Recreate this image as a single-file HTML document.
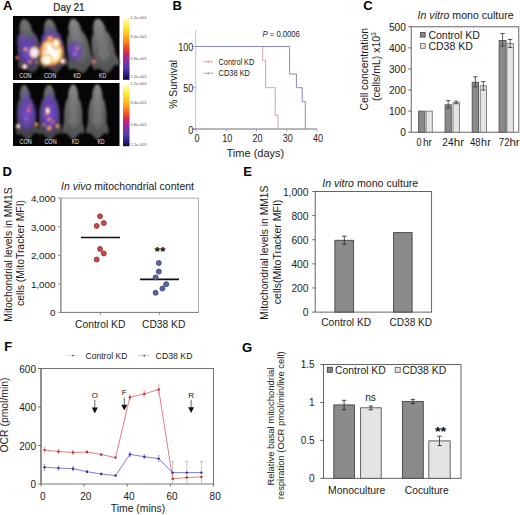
<!DOCTYPE html>
<html><head><meta charset="utf-8"><style>
html,body{margin:0;padding:0;background:#fff;width:520px;height:515px;overflow:hidden;}
svg{display:block;font-family:"Liberation Sans", sans-serif;}
</style></head><body>
<svg width="520" height="515" viewBox="0 0 520 515">
<text x="3" y="10" font-size="13" font-weight="bold" fill="#000" >A</text>
<text x="172.5" y="9.6" font-size="13" font-weight="bold" fill="#000" >B</text>
<text x="363.2" y="9.6" font-size="13" font-weight="bold" fill="#000" >C</text>
<text x="2.6" y="176" font-size="13" font-weight="bold" fill="#000" >D</text>
<text x="243.3" y="176" font-size="13" font-weight="bold" fill="#000" >E</text>
<text x="4.3" y="351" font-size="13" font-weight="bold" fill="#000" >F</text>
<text x="242" y="351.5" font-size="13" font-weight="bold" fill="#000" >G</text>
<text x="53.3" y="10.5" font-size="10.6" fill="#1a1a1a" textLength="31.2" lengthAdjust="spacingAndGlyphs" stroke="#1a1a1a" stroke-width="0.2">Day 21</text>
<defs>
<filter id="bl1" x="-30%" y="-30%" width="160%" height="160%"><feGaussianBlur stdDeviation="0.9"/></filter>
<filter id="bl2" x="-50%" y="-50%" width="200%" height="200%"><feGaussianBlur stdDeviation="1.6"/></filter>
<filter id="bl3" x="-20%" y="-20%" width="140%" height="140%"><feGaussianBlur stdDeviation="0.8"/></filter>
<linearGradient id="cbar" x1="0" y1="0" x2="0" y2="1">
<stop offset="0" stop-color="#fffbe6"/><stop offset="0.06" stop-color="#fff8a8"/><stop offset="0.14" stop-color="#ffee38"/>
<stop offset="0.28" stop-color="#ffc222"/><stop offset="0.4" stop-color="#f88420"/><stop offset="0.52" stop-color="#e63a30"/>
<stop offset="0.6" stop-color="#c42472"/><stop offset="0.68" stop-color="#9030a2"/><stop offset="0.8" stop-color="#5a3aa8"/>
<stop offset="0.9" stop-color="#30288a"/><stop offset="1" stop-color="#0c0c30"/></linearGradient>
<radialGradient id="purp"><stop offset="0" stop-color="#8048e8" stop-opacity="0.92"/><stop offset="0.55" stop-color="#6038d0" stop-opacity="0.68"/><stop offset="1" stop-color="#3820b0" stop-opacity="0"/></radialGradient>
<radialGradient id="hot"><stop offset="0" stop-color="#ffffff"/><stop offset="0.4" stop-color="#fffad0"/><stop offset="0.62" stop-color="#ffd050" stop-opacity="0.95"/><stop offset="0.85" stop-color="#e05060" stop-opacity="0.55"/><stop offset="1" stop-color="#a030a0" stop-opacity="0"/></radialGradient>
<radialGradient id="warm"><stop offset="0" stop-color="#fff0a0"/><stop offset="0.4" stop-color="#ff9a30" stop-opacity="0.85"/><stop offset="1" stop-color="#b03090" stop-opacity="0"/></radialGradient>
<radialGradient id="wspot"><stop offset="0" stop-color="#ffffff"/><stop offset="0.45" stop-color="#fff0e0"/><stop offset="0.75" stop-color="#ff9090" stop-opacity="0.7"/><stop offset="1" stop-color="#c03080" stop-opacity="0"/></radialGradient>
<radialGradient id="pale"><stop offset="0" stop-color="#f4f4ff"/><stop offset="0.5" stop-color="#ece6f4"/><stop offset="0.72" stop-color="#ffc870" stop-opacity="0.9"/><stop offset="1" stop-color="#b040a0" stop-opacity="0"/></radialGradient>
<radialGradient id="white"><stop offset="0" stop-color="#ffffff"/><stop offset="0.55" stop-color="#fffbe8"/><stop offset="0.75" stop-color="#ffd040" stop-opacity="0.95"/><stop offset="0.9" stop-color="#f06040" stop-opacity="0.6"/><stop offset="1" stop-color="#a030a0" stop-opacity="0"/></radialGradient>
<radialGradient id="pink"><stop offset="0" stop-color="#ffe0e0"/><stop offset="0.4" stop-color="#ff6070" stop-opacity="0.9"/><stop offset="1" stop-color="#a02060" stop-opacity="0"/></radialGradient>
<linearGradient id="mg" x1="0" y1="0" x2="0" y2="1"><stop offset="0" stop-color="#969696"/><stop offset="0.3" stop-color="#767676"/><stop offset="1" stop-color="#585858"/></linearGradient>
</defs>
<rect x="13" y="16" width="106.5" height="64" fill="#060606"/>
<rect x="13" y="83" width="106.5" height="63" fill="#060606"/>
<g>
<g transform="rotate(-10 28.5 46.0)" opacity="0.75">
<path d="M29.9,19.0 L31.6,20.4 L33.3,23.3 L34.7,27.6 L34.7,31.4 L37.5,36.3 L39.1,42.8 L39.7,49.2 L39.7,55.7 L41.1,60.0 L42.5,64.4 L40.8,67.6 L36.9,66.5 L32.7,70.3 L29.6,73.0 L27.4,73.0 L24.3,70.3 L20.1,66.5 L16.2,67.6 L14.5,64.4 L15.9,60.0 L17.3,55.7 L17.3,49.2 L17.9,42.8 L19.5,36.3 L22.3,31.4 L22.3,27.6 L23.7,23.3 L25.4,20.4 L27.1,19.0Z" fill="url(#mg)" filter="url(#bl1)"/>
<path d="M29.1,20.1 L29.9,21.1 L30.6,23.4 L31.3,26.8 L31.3,29.8 L32.5,33.6 L33.3,38.6 L33.5,43.7 L33.5,48.7 L34.2,52.1 L34.8,55.5 L34.0,58.0 L32.3,57.1 L30.4,60.1 L29.0,62.2 L28.0,62.2 L26.6,60.1 L24.7,57.1 L23.0,58.0 L22.2,55.5 L22.8,52.1 L23.5,48.7 L23.5,43.7 L23.7,38.6 L24.5,33.6 L25.7,29.8 L25.7,26.8 L26.4,23.4 L27.1,21.1 L27.9,20.1Z" fill="#a8a8a8" opacity="0.35" filter="url(#bl2)"/>
</g>
<g transform="rotate(-8 52.5 46.0)" opacity="0.75">
<path d="M53.9,19.0 L55.6,20.4 L57.3,23.3 L58.7,27.6 L58.7,31.4 L61.5,36.3 L63.1,42.8 L63.7,49.2 L63.7,55.7 L65.1,60.0 L66.5,64.4 L64.8,67.6 L60.9,66.5 L56.7,70.3 L53.6,73.0 L51.4,73.0 L48.3,70.3 L44.1,66.5 L40.2,67.6 L38.5,64.4 L39.9,60.0 L41.3,55.7 L41.3,49.2 L41.9,42.8 L43.5,36.3 L46.3,31.4 L46.3,27.6 L47.7,23.3 L49.4,20.4 L51.1,19.0Z" fill="url(#mg)" filter="url(#bl1)"/>
<path d="M53.1,20.1 L53.9,21.1 L54.6,23.4 L55.3,26.8 L55.3,29.8 L56.5,33.6 L57.3,38.6 L57.5,43.7 L57.5,48.7 L58.2,52.1 L58.8,55.5 L58.0,58.0 L56.3,57.1 L54.4,60.1 L53.0,62.2 L52.0,62.2 L50.6,60.1 L48.7,57.1 L47.0,58.0 L46.2,55.5 L46.8,52.1 L47.5,48.7 L47.5,43.7 L47.7,38.6 L48.5,33.6 L49.7,29.8 L49.7,26.8 L50.4,23.4 L51.1,21.1 L51.9,20.1Z" fill="#a8a8a8" opacity="0.35" filter="url(#bl2)"/>
</g>
<g transform="rotate(-11 78 46.0)" opacity="0.9">
<path d="M79.4,18.5 L81.1,19.9 L82.8,22.9 L84.2,27.3 L84.2,31.1 L87.0,36.1 L88.6,42.7 L89.2,49.3 L89.2,55.9 L90.6,60.3 L92.0,64.7 L90.3,68.0 L86.4,66.9 L82.2,70.8 L79.1,73.5 L76.9,73.5 L73.8,70.8 L69.6,66.9 L65.7,68.0 L64.0,64.7 L65.4,60.3 L66.8,55.9 L66.8,49.3 L67.4,42.7 L69.0,36.1 L71.8,31.1 L71.8,27.3 L73.2,22.9 L74.9,19.9 L76.6,18.5Z" fill="url(#mg)" filter="url(#bl1)"/>
<path d="M78.6,19.6 L79.4,20.7 L80.1,23.0 L80.8,26.5 L80.8,29.5 L82.0,33.3 L82.8,38.5 L83.0,43.6 L83.0,48.8 L83.7,52.2 L84.3,55.6 L83.5,58.2 L81.8,57.4 L79.9,60.4 L78.5,62.5 L77.5,62.5 L76.1,60.4 L74.2,57.4 L72.5,58.2 L71.7,55.6 L72.3,52.2 L73.0,48.8 L73.0,43.6 L73.2,38.5 L74.0,33.3 L75.2,29.5 L75.2,26.5 L75.9,23.0 L76.6,20.7 L77.4,19.6Z" fill="#a8a8a8" opacity="0.35" filter="url(#bl2)"/>
</g>
<g transform="rotate(-11 102.5 46.0)" opacity="0.9">
<path d="M103.9,18.5 L105.6,19.9 L107.3,22.9 L108.7,27.3 L108.7,31.1 L111.5,36.1 L113.1,42.7 L113.7,49.3 L113.7,55.9 L115.1,60.3 L116.5,64.7 L114.8,68.0 L110.9,66.9 L106.7,70.8 L103.6,73.5 L101.4,73.5 L98.3,70.8 L94.1,66.9 L90.2,68.0 L88.5,64.7 L89.9,60.3 L91.3,55.9 L91.3,49.3 L91.9,42.7 L93.5,36.1 L96.3,31.1 L96.3,27.3 L97.7,22.9 L99.4,19.9 L101.1,18.5Z" fill="url(#mg)" filter="url(#bl1)"/>
<path d="M103.1,19.6 L103.9,20.7 L104.6,23.0 L105.3,26.5 L105.3,29.5 L106.5,33.3 L107.3,38.5 L107.5,43.6 L107.5,48.8 L108.2,52.2 L108.8,55.6 L108.0,58.2 L106.3,57.4 L104.4,60.4 L103.0,62.5 L102.0,62.5 L100.6,60.4 L98.7,57.4 L97.0,58.2 L96.2,55.6 L96.8,52.2 L97.5,48.8 L97.5,43.6 L97.7,38.5 L98.5,33.3 L99.7,29.5 L99.7,26.5 L100.4,23.0 L101.1,20.7 L101.9,19.6Z" fill="#a8a8a8" opacity="0.35" filter="url(#bl2)"/>
</g>
</g>
<g filter="url(#bl3)">
<ellipse cx="28" cy="52" rx="11.5" ry="18" fill="url(#purp)" opacity="0.95" transform="rotate(-8 28 52)"/>
<ellipse cx="22" cy="40" rx="8" ry="9" fill="url(#purp)" opacity="0.45" transform="rotate(0 22 40)"/>
<ellipse cx="34.5" cy="40" rx="3" ry="7" fill="url(#purp)" opacity="0.6" transform="rotate(0 34.5 40)"/>
<ellipse cx="34.4" cy="52.5" rx="6" ry="7" fill="url(#pale)" opacity="1" transform="rotate(0 34.4 52.5)"/>
<ellipse cx="25.4" cy="49.2" rx="3" ry="2.6" fill="url(#warm)" opacity="1" transform="rotate(0 25.4 49.2)"/>
<ellipse cx="24.6" cy="66.7" rx="3.2" ry="3.2" fill="url(#wspot)" opacity="1" transform="rotate(0 24.6 66.7)"/>
<ellipse cx="17.3" cy="57.7" rx="2.8" ry="2.8" fill="url(#pink)" opacity="0.9" transform="rotate(0 17.3 57.7)"/>
<ellipse cx="29.9" cy="61.8" rx="2.4" ry="2.4" fill="url(#warm)" opacity="0.85" transform="rotate(0 29.9 61.8)"/>
<ellipse cx="36.5" cy="62" rx="2.2" ry="2.2" fill="url(#warm)" opacity="0.7" transform="rotate(0 36.5 62)"/>
<ellipse cx="51.5" cy="47" rx="13.5" ry="22" fill="url(#purp)" opacity="1" transform="rotate(-6 51.5 47)"/>
<ellipse cx="51.5" cy="52" rx="13" ry="15" fill="url(#white)" opacity="1" transform="rotate(-6 51.5 52)"/>
<ellipse cx="46.5" cy="60" rx="7" ry="6.5" fill="url(#white)" opacity="0.95" transform="rotate(0 46.5 60)"/>
<ellipse cx="56" cy="43.5" rx="5.5" ry="6.5" fill="url(#hot)" opacity="0.95" transform="rotate(0 56 43.5)"/>
<ellipse cx="50" cy="38.5" rx="5" ry="4.5" fill="url(#warm)" opacity="0.95" transform="rotate(0 50 38.5)"/>
<ellipse cx="43.5" cy="49" rx="3.5" ry="4" fill="url(#warm)" opacity="0.8" transform="rotate(0 43.5 49)"/>
<ellipse cx="62.8" cy="61.2" rx="3.2" ry="3.2" fill="url(#wspot)" opacity="1" transform="rotate(0 62.8 61.2)"/>
<ellipse cx="75" cy="51" rx="9.5" ry="12" fill="url(#purp)" opacity="0.9" transform="rotate(0 75 51)"/>
<ellipse cx="77.5" cy="48" rx="3" ry="3" fill="url(#warm)" opacity="0.55" transform="rotate(0 77.5 48)"/>
<ellipse cx="75" cy="54" rx="2.5" ry="2.5" fill="url(#warm)" opacity="0.5" transform="rotate(0 75 54)"/>
<ellipse cx="94" cy="61.5" rx="2.8" ry="2.8" fill="url(#pink)" opacity="1" transform="rotate(0 94 61.5)"/>
</g>
<g transform="rotate(-4 26 112.5)" opacity="0.75">
<path d="M27.2,85.0 L28.5,86.4 L29.9,89.4 L31.1,93.8 L31.1,97.7 L33.4,102.6 L34.7,109.2 L35.2,115.8 L35.2,122.4 L36.4,126.8 L37.5,131.2 L36.1,134.5 L32.9,133.4 L29.4,137.2 L26.9,140.0 L25.1,140.0 L22.6,137.2 L19.1,133.4 L15.9,134.5 L14.5,131.2 L15.7,126.8 L16.8,122.4 L16.8,115.8 L17.3,109.2 L18.6,102.6 L20.9,97.7 L20.9,93.8 L22.1,89.4 L23.5,86.4 L24.8,85.0Z" fill="url(#mg)" filter="url(#bl1)"/>
<path d="M26.5,86.1 L27.1,87.2 L27.8,89.5 L28.3,93.0 L28.3,96.0 L29.3,99.8 L29.9,105.0 L30.1,110.1 L30.1,115.3 L30.7,118.7 L31.2,122.1 L30.6,124.7 L29.1,123.9 L27.6,126.9 L26.4,129.0 L25.6,129.0 L24.4,126.9 L22.9,123.9 L21.4,124.7 L20.8,122.1 L21.3,118.7 L21.9,115.3 L21.9,110.1 L22.1,105.0 L22.7,99.8 L23.7,96.0 L23.7,93.0 L24.2,89.5 L24.9,87.2 L25.5,86.1Z" fill="#a8a8a8" opacity="0.35" filter="url(#bl2)"/>
</g>
<g transform="rotate(-1 49.5 112.5)" opacity="0.75">
<path d="M50.8,85.0 L52.2,86.4 L53.8,89.4 L55.0,93.8 L55.0,97.7 L57.5,102.6 L59.0,109.2 L59.5,115.8 L59.5,122.4 L60.8,126.8 L62.0,131.2 L60.5,134.5 L57.0,133.4 L53.2,137.2 L50.5,140.0 L48.5,140.0 L45.8,137.2 L42.0,133.4 L38.5,134.5 L37.0,131.2 L38.2,126.8 L39.5,122.4 L39.5,115.8 L40.0,109.2 L41.5,102.6 L44.0,97.7 L44.0,93.8 L45.2,89.4 L46.8,86.4 L48.2,85.0Z" fill="url(#mg)" filter="url(#bl1)"/>
<path d="M50.1,86.1 L50.7,87.2 L51.4,89.5 L52.0,93.0 L52.0,96.0 L53.1,99.8 L53.8,105.0 L54.0,110.1 L54.0,115.3 L54.6,118.7 L55.1,122.1 L54.5,124.7 L52.9,123.9 L51.2,126.9 L50.0,129.0 L49.0,129.0 L47.8,126.9 L46.1,123.9 L44.5,124.7 L43.9,122.1 L44.4,118.7 L45.0,115.3 L45.0,110.1 L45.2,105.0 L45.9,99.8 L47.0,96.0 L47.0,93.0 L47.6,89.5 L48.3,87.2 L48.9,86.1Z" fill="#a8a8a8" opacity="0.35" filter="url(#bl2)"/>
</g>
<g transform="rotate(0 73.2 112.0)" opacity="0.9">
<path d="M74.4,84.5 L75.7,85.9 L77.1,88.9 L78.3,93.3 L78.3,97.2 L80.6,102.1 L81.9,108.7 L82.4,115.3 L82.4,121.9 L83.5,126.3 L84.7,130.7 L83.3,134.0 L80.1,132.9 L76.7,136.8 L74.1,139.5 L72.3,139.5 L69.8,136.8 L66.3,132.9 L63.1,134.0 L61.7,130.7 L62.9,126.3 L64.0,121.9 L64.0,115.3 L64.5,108.7 L65.8,102.1 L68.1,97.2 L68.1,93.3 L69.3,88.9 L70.7,85.9 L72.0,84.5Z" fill="url(#mg)" filter="url(#bl1)"/>
<path d="M73.7,85.6 L74.3,86.7 L75.0,89.0 L75.5,92.5 L75.5,95.5 L76.5,99.3 L77.1,104.5 L77.3,109.6 L77.3,114.8 L77.9,118.2 L78.4,121.6 L77.8,124.2 L76.3,123.4 L74.8,126.4 L73.6,128.5 L72.8,128.5 L71.6,126.4 L70.1,123.4 L68.6,124.2 L68.0,121.6 L68.5,118.2 L69.1,114.8 L69.1,109.6 L69.3,104.5 L69.9,99.3 L70.9,95.5 L70.9,92.5 L71.4,89.0 L72.1,86.7 L72.7,85.6Z" fill="#a8a8a8" opacity="0.35" filter="url(#bl2)"/>
</g>
<g transform="rotate(0 97.3 112.0)" opacity="0.9">
<path d="M98.5,84.5 L99.8,85.9 L101.2,88.9 L102.4,93.3 L102.4,97.2 L104.7,102.1 L106.0,108.7 L106.5,115.3 L106.5,121.9 L107.6,126.3 L108.8,130.7 L107.4,134.0 L104.2,132.9 L100.8,136.8 L98.2,139.5 L96.4,139.5 L93.8,136.8 L90.4,132.9 L87.2,134.0 L85.8,130.7 L87.0,126.3 L88.1,121.9 L88.1,115.3 L88.6,108.7 L89.9,102.1 L92.2,97.2 L92.2,93.3 L93.4,88.9 L94.8,85.9 L96.1,84.5Z" fill="url(#mg)" filter="url(#bl1)"/>
<path d="M97.8,85.6 L98.4,86.7 L99.1,89.0 L99.6,92.5 L99.6,95.5 L100.6,99.3 L101.2,104.5 L101.4,109.6 L101.4,114.8 L102.0,118.2 L102.5,121.6 L101.9,124.2 L100.4,123.4 L98.9,126.4 L97.7,128.5 L96.9,128.5 L95.7,126.4 L94.2,123.4 L92.7,124.2 L92.1,121.6 L92.6,118.2 L93.2,114.8 L93.2,109.6 L93.4,104.5 L94.0,99.3 L95.0,95.5 L95.0,92.5 L95.5,89.0 L96.2,86.7 L96.8,85.6Z" fill="#a8a8a8" opacity="0.35" filter="url(#bl2)"/>
</g>
<g filter="url(#bl3)">
<ellipse cx="27" cy="114" rx="11.5" ry="20" fill="url(#purp)" opacity="0.95" transform="rotate(0 27 114)"/>
<ellipse cx="25.5" cy="96" rx="5" ry="7" fill="url(#purp)" opacity="0.5" transform="rotate(0 25.5 96)"/>
<ellipse cx="28.7" cy="110" rx="3" ry="3.5" fill="url(#pink)" opacity="0.75" transform="rotate(0 28.7 110)"/>
<ellipse cx="26" cy="119" rx="2.5" ry="2.5" fill="url(#warm)" opacity="0.45" transform="rotate(0 26 119)"/>
<ellipse cx="18" cy="126.2" rx="2.8" ry="2.8" fill="url(#wspot)" opacity="0.95" transform="rotate(0 18 126.2)"/>
<ellipse cx="49.5" cy="114" rx="12" ry="21" fill="url(#purp)" opacity="1" transform="rotate(0 49.5 114)"/>
<ellipse cx="49.5" cy="98" rx="5" ry="6" fill="url(#purp)" opacity="0.6" transform="rotate(0 49.5 98)"/>
<ellipse cx="47.6" cy="110.8" rx="2.6" ry="4.5" fill="url(#hot)" opacity="0.95" transform="rotate(0 47.6 110.8)"/>
<ellipse cx="49.2" cy="119.2" rx="2.8" ry="3" fill="url(#warm)" opacity="0.8" transform="rotate(0 49.2 119.2)"/>
<ellipse cx="49.2" cy="128.2" rx="4" ry="3.5" fill="url(#warm)" opacity="0.95" transform="rotate(0 49.2 128.2)"/>
<ellipse cx="36.5" cy="124.3" rx="2.8" ry="2.8" fill="url(#warm)" opacity="0.95" transform="rotate(0 36.5 124.3)"/>
<ellipse cx="57.5" cy="126.2" rx="3" ry="3" fill="url(#warm)" opacity="0.95" transform="rotate(0 57.5 126.2)"/>
<ellipse cx="44" cy="125" rx="2.5" ry="2.5" fill="url(#warm)" opacity="0.6" transform="rotate(0 44 125)"/>
<ellipse cx="53" cy="122" rx="2.5" ry="3" fill="url(#pink)" opacity="0.6" transform="rotate(0 53 122)"/>
<ellipse cx="45" cy="115" rx="2" ry="2.5" fill="url(#pink)" opacity="0.5" transform="rotate(0 45 115)"/>
<ellipse cx="30" cy="106" rx="2.5" ry="2.5" fill="url(#pink)" opacity="0.5" transform="rotate(0 30 106)"/>
</g>
<text x="25.4" y="77.7" font-size="6.6" text-anchor="middle" fill="#e8e8e8" textLength="12.2" lengthAdjust="spacingAndGlyphs">CON</text>
<text x="50" y="77.7" font-size="6.6" text-anchor="middle" fill="#e8e8e8" textLength="12.2" lengthAdjust="spacingAndGlyphs">CON</text>
<text x="77.1" y="77.7" font-size="6.6" text-anchor="middle" fill="#e8e8e8" textLength="7.2" lengthAdjust="spacingAndGlyphs">KD</text>
<text x="102.6" y="77.7" font-size="6.6" text-anchor="middle" fill="#e8e8e8" textLength="7.2" lengthAdjust="spacingAndGlyphs">KD</text>
<text x="25.7" y="144.3" font-size="6.6" text-anchor="middle" fill="#e8e8e8" textLength="12.2" lengthAdjust="spacingAndGlyphs">CON</text>
<text x="50.5" y="144.3" font-size="6.6" text-anchor="middle" fill="#e8e8e8" textLength="12.2" lengthAdjust="spacingAndGlyphs">CON</text>
<text x="75.4" y="144.3" font-size="6.6" text-anchor="middle" fill="#e8e8e8" textLength="7.2" lengthAdjust="spacingAndGlyphs">KD</text>
<text x="101" y="144.3" font-size="6.6" text-anchor="middle" fill="#e8e8e8" textLength="7.2" lengthAdjust="spacingAndGlyphs">KD</text>
<rect x="123" y="16.8" width="6.5" height="63" fill="url(#cbar)"/>
<rect x="123" y="83.8" width="6.5" height="62.4" fill="url(#cbar)"/>
<text x="130.6" y="18.5" font-size="4.4" fill="#555" textLength="15.6" lengthAdjust="spacingAndGlyphs">1.2e+004</text>
<text x="130.6" y="38.2" font-size="4.4" fill="#555" textLength="15.6" lengthAdjust="spacingAndGlyphs">8.4e+003</text>
<text x="130.6" y="59.6" font-size="4.4" fill="#555" textLength="15.6" lengthAdjust="spacingAndGlyphs">4.8e+003</text>
<text x="130.6" y="78.3" font-size="4.4" fill="#555" textLength="15.6" lengthAdjust="spacingAndGlyphs">1.2e+003</text>
<text x="130.6" y="84.9" font-size="4.4" fill="#555" textLength="15.6" lengthAdjust="spacingAndGlyphs">1.2e+004</text>
<text x="130.6" y="104.1" font-size="4.4" fill="#555" textLength="15.6" lengthAdjust="spacingAndGlyphs">8.4e+003</text>
<text x="130.6" y="126.3" font-size="4.4" fill="#555" textLength="15.6" lengthAdjust="spacingAndGlyphs">4.8e+003</text>
<text x="130.6" y="145.9" font-size="4.4" fill="#555" textLength="15.6" lengthAdjust="spacingAndGlyphs">1.2e+003</text>
<line x1="195.7" y1="30" x2="195.7" y2="129.5" stroke="#b4b4b4" stroke-width="0.8" />
<line x1="193" y1="129" x2="317" y2="129" stroke="#707070" stroke-width="1" />
<line x1="192.8" y1="46.5" x2="195.7" y2="46.5" stroke="#888" stroke-width="0.8" />
<text x="193.3" y="51.150000000000006" font-size="11" text-anchor="end" fill="#1a1a1a" textLength="15.15" lengthAdjust="spacingAndGlyphs" >100</text>
<line x1="192.8" y1="87.7" x2="195.7" y2="87.7" stroke="#888" stroke-width="0.8" />
<text x="193.3" y="92.35000000000001" font-size="11" text-anchor="end" fill="#1a1a1a" textLength="10.1" lengthAdjust="spacingAndGlyphs" >50</text>
<line x1="192.8" y1="129" x2="195.7" y2="129" stroke="#888" stroke-width="0.8" />
<text x="193.3" y="133.64999999999998" font-size="11" text-anchor="end" fill="#1a1a1a" textLength="5.05" lengthAdjust="spacingAndGlyphs" >0</text>
<line x1="196.0" y1="129" x2="196.0" y2="131.5" stroke="#999" stroke-width="0.8" />
<text x="197.0" y="141.6" font-size="11" text-anchor="middle" fill="#1a1a1a" textLength="5.05" lengthAdjust="spacingAndGlyphs" >0</text>
<line x1="226.25" y1="129" x2="226.25" y2="131.5" stroke="#999" stroke-width="0.8" />
<text x="227.25" y="141.6" font-size="11" text-anchor="middle" fill="#1a1a1a" textLength="10.1" lengthAdjust="spacingAndGlyphs" >10</text>
<line x1="256.5" y1="129" x2="256.5" y2="131.5" stroke="#999" stroke-width="0.8" />
<text x="257.5" y="141.6" font-size="11" text-anchor="middle" fill="#1a1a1a" textLength="10.1" lengthAdjust="spacingAndGlyphs" >20</text>
<line x1="286.75" y1="129" x2="286.75" y2="131.5" stroke="#999" stroke-width="0.8" />
<text x="287.75" y="141.6" font-size="11" text-anchor="middle" fill="#1a1a1a" textLength="10.1" lengthAdjust="spacingAndGlyphs" >30</text>
<line x1="317.0" y1="129" x2="317.0" y2="131.5" stroke="#999" stroke-width="0.8" />
<text x="318.0" y="141.6" font-size="11" text-anchor="middle" fill="#1a1a1a" textLength="10.1" lengthAdjust="spacingAndGlyphs" >40</text>
<text x="255.4" y="156.8" font-size="11" text-anchor="middle" fill="#1a1a1a" >Time (days)</text>
<text transform="translate(177.2,84.4) rotate(-90)" font-size="10.7" text-anchor="middle" fill="#1a1a1a" textLength="48.8" lengthAdjust="spacingAndGlyphs">% Survival</text>
<polyline points="262.7,46.5 262.7,60.3 265.6,60.3 265.6,87.7 275.2,87.7 275.2,115.2 278,115.2 278,129" fill="none" stroke="#d89494" stroke-width="0.9"/>
<polyline points="196,46.5 289.6,46.5 289.6,74 296.4,74 296.4,87.7 302.2,87.7 302.2,101.5 305.3,101.5 305.3,129" fill="none" stroke="#8484bc" stroke-width="0.95"/>
<line x1="203.5" y1="61.8" x2="213" y2="61.8" stroke="#e09090" stroke-width="0.9" />
<line x1="208.3" y1="60.3" x2="208.3" y2="63.3" stroke="#e09090" stroke-width="0.7" />
<line x1="203.5" y1="73.2" x2="213.3" y2="73.2" stroke="#9a9aa8" stroke-width="0.9" />
<line x1="208.4" y1="71.7" x2="208.4" y2="74.7" stroke="#9a9aa8" stroke-width="0.7" />
<text x="218.6" y="65" font-size="8.8" fill="#1a1a1a" textLength="35.6" lengthAdjust="spacingAndGlyphs" >Control KD</text>
<text x="218.6" y="76.3" font-size="8.8" fill="#1a1a1a" textLength="31.4" lengthAdjust="spacingAndGlyphs" >CD38 KD</text>
<text x="262.6" y="37.1" font-size="8.9" fill="#1a1a1a" textLength="37.3" lengthAdjust="spacingAndGlyphs"><tspan font-style="italic">P</tspan> = 0.0006</text>
<rect x="411.2" y="26.8" width="107.59999999999997" height="105.39999999999999" fill="none" stroke="#555" stroke-width="0.9" />
<line x1="408.3" y1="26.8" x2="411.2" y2="26.8" stroke="#555" stroke-width="0.9" />
<text x="405.9" y="30.9" font-size="10.2" text-anchor="end" fill="#1a1a1a" >500</text>
<line x1="408.3" y1="47.879999999999995" x2="411.2" y2="47.879999999999995" stroke="#555" stroke-width="0.9" />
<text x="405.9" y="51.98" font-size="10.2" text-anchor="end" fill="#1a1a1a" >400</text>
<line x1="408.3" y1="68.96" x2="411.2" y2="68.96" stroke="#555" stroke-width="0.9" />
<text x="405.9" y="73.05999999999999" font-size="10.2" text-anchor="end" fill="#1a1a1a" >300</text>
<line x1="408.3" y1="90.03999999999999" x2="411.2" y2="90.03999999999999" stroke="#555" stroke-width="0.9" />
<text x="405.9" y="94.13999999999999" font-size="10.2" text-anchor="end" fill="#1a1a1a" >200</text>
<line x1="408.3" y1="111.11999999999999" x2="411.2" y2="111.11999999999999" stroke="#555" stroke-width="0.9" />
<text x="405.9" y="115.21999999999998" font-size="10.2" text-anchor="end" fill="#1a1a1a" >100</text>
<line x1="408.3" y1="132.2" x2="411.2" y2="132.2" stroke="#555" stroke-width="0.9" />
<text x="405.9" y="136.29999999999998" font-size="10.2" text-anchor="end" fill="#1a1a1a" >0</text>
<text x="417.6" y="19.4" font-size="10.5" fill="#1a1a1a" textLength="96" lengthAdjust="spacingAndGlyphs"><tspan font-style="italic">In vitro</tspan> mono culture</text>
<rect x="418.6" y="111.11999999999999" width="6.199999999999989" height="21.08" fill="#8a8a8a" stroke="#555" stroke-width="0.9" />
<rect x="426.1" y="111.11999999999999" width="6.199999999999989" height="21.08" fill="#e4e4e4" stroke="#777" stroke-width="0.9" />
<rect x="445.1" y="104.79599999999999" width="6.199999999999989" height="27.403999999999996" fill="#8a8a8a" stroke="#555" stroke-width="0.9" />
<line x1="448.20000000000005" y1="100.57999999999998" x2="448.20000000000005" y2="107.958" stroke="#333" stroke-width="0.8" />
<line x1="446.00000000000006" y1="100.57999999999998" x2="450.40000000000003" y2="100.57999999999998" stroke="#333" stroke-width="0.8" />
<line x1="446.00000000000006" y1="107.958" x2="450.40000000000003" y2="107.958" stroke="#333" stroke-width="0.8" />
<rect x="453" y="102.68799999999999" width="6.399999999999977" height="29.512" fill="#e4e4e4" stroke="#777" stroke-width="0.9" />
<line x1="456.2" y1="101.21239999999999" x2="456.2" y2="103.74199999999999" stroke="#333" stroke-width="0.8" />
<line x1="454.0" y1="101.21239999999999" x2="458.4" y2="101.21239999999999" stroke="#333" stroke-width="0.8" />
<line x1="454.0" y1="103.74199999999999" x2="458.4" y2="103.74199999999999" stroke="#333" stroke-width="0.8" />
<rect x="472.2" y="82.2404" width="6.300000000000011" height="49.959599999999995" fill="#8a8a8a" stroke="#555" stroke-width="0.9" />
<line x1="475.35" y1="76.75959999999999" x2="475.35" y2="86.87799999999999" stroke="#333" stroke-width="0.8" />
<line x1="473.15000000000003" y1="76.75959999999999" x2="477.55" y2="76.75959999999999" stroke="#333" stroke-width="0.8" />
<line x1="473.15000000000003" y1="86.87799999999999" x2="477.55" y2="86.87799999999999" stroke="#333" stroke-width="0.8" />
<rect x="480.2" y="85.82399999999998" width="6.300000000000011" height="46.376000000000005" fill="#e4e4e4" stroke="#777" stroke-width="0.9" />
<line x1="483.35" y1="81.60799999999999" x2="483.35" y2="90.03999999999999" stroke="#333" stroke-width="0.8" />
<line x1="481.15000000000003" y1="81.60799999999999" x2="485.55" y2="81.60799999999999" stroke="#333" stroke-width="0.8" />
<line x1="481.15000000000003" y1="90.03999999999999" x2="485.55" y2="90.03999999999999" stroke="#333" stroke-width="0.8" />
<rect x="499.1" y="40.501999999999995" width="7.0" height="91.698" fill="#8a8a8a" stroke="#555" stroke-width="0.9" />
<line x1="502.6" y1="33.54559999999999" x2="502.6" y2="46.19359999999999" stroke="#333" stroke-width="0.8" />
<line x1="500.40000000000003" y1="33.54559999999999" x2="504.8" y2="33.54559999999999" stroke="#333" stroke-width="0.8" />
<line x1="500.40000000000003" y1="46.19359999999999" x2="504.8" y2="46.19359999999999" stroke="#333" stroke-width="0.8" />
<rect x="506.9" y="43.66399999999999" width="6.5" height="88.536" fill="#e4e4e4" stroke="#777" stroke-width="0.9" />
<line x1="510.15" y1="39.44799999999999" x2="510.15" y2="47.4584" stroke="#333" stroke-width="0.8" />
<line x1="507.95" y1="39.44799999999999" x2="512.35" y2="39.44799999999999" stroke="#333" stroke-width="0.8" />
<line x1="507.95" y1="47.4584" x2="512.35" y2="47.4584" stroke="#333" stroke-width="0.8" />
<rect x="420.5" y="32.4" width="4.7" height="4.7" fill="#8a8a8a" stroke="#444" stroke-width="0.8" />
<rect x="420.5" y="43.6" width="4.7" height="4.7" fill="#e4e4e4" stroke="#666" stroke-width="0.8" />
<text x="428.4" y="38.9" font-size="10.5" fill="#1a1a1a" >Control KD</text>
<text x="428.4" y="50.2" font-size="10.5" fill="#1a1a1a" >CD38 KD</text>
<text x="416.5" y="146.2" font-size="10.8" fill="#1a1a1a" textLength="5.0" lengthAdjust="spacingAndGlyphs" >0</text>
<text x="422.90000000000003" y="146.2" font-size="10.8" fill="#1a1a1a" textLength="8.9" lengthAdjust="spacingAndGlyphs" >hr</text>
<text x="442.3" y="146.2" font-size="10.8" fill="#1a1a1a" textLength="11.2" lengthAdjust="spacingAndGlyphs" >24</text>
<text x="453.8" y="146.2" font-size="10.8" fill="#1a1a1a" textLength="10.3" lengthAdjust="spacingAndGlyphs" >hr</text>
<text x="470.0" y="146.2" font-size="10.8" fill="#1a1a1a" textLength="10.5" lengthAdjust="spacingAndGlyphs" >48</text>
<text x="481.1" y="146.2" font-size="10.8" fill="#1a1a1a" textLength="9.7" lengthAdjust="spacingAndGlyphs" >hr</text>
<text x="498.8" y="146.2" font-size="10.8" fill="#1a1a1a" textLength="10.7" lengthAdjust="spacingAndGlyphs" >72</text>
<text x="509.40000000000003" y="146.2" font-size="10.8" fill="#1a1a1a" textLength="10.2" lengthAdjust="spacingAndGlyphs" >hr</text>
<text transform="translate(367.5,69.3) rotate(-90)" font-size="10.3" text-anchor="middle" fill="#1a1a1a" textLength="82.5" lengthAdjust="spacingAndGlyphs">Cell concentration</text>
<text transform="translate(380,66.6) rotate(-90)" font-size="10" text-anchor="middle" fill="#1a1a1a" textLength="69" lengthAdjust="spacingAndGlyphs">(cells/mL) x10<tspan font-size="6.5" dy="-3.6">3</tspan></text>
<rect x="60.9" y="198.1" width="137.5" height="114.29999999999998" fill="none" stroke="#999" stroke-width="0.8" />
<line x1="60.9" y1="198.1" x2="60.9" y2="312.4" stroke="#777" stroke-width="0.9" />
<line x1="60.9" y1="312.4" x2="198.4" y2="312.4" stroke="#777" stroke-width="0.9" />
<line x1="58" y1="198.1" x2="60.9" y2="198.1" stroke="#777" stroke-width="0.8" />
<text x="55.6" y="202.0" font-size="9.9" text-anchor="end" fill="#1a1a1a" >4,000</text>
<line x1="58" y1="226.67499999999998" x2="60.9" y2="226.67499999999998" stroke="#777" stroke-width="0.8" />
<text x="55.6" y="230.575" font-size="9.9" text-anchor="end" fill="#1a1a1a" >3,000</text>
<line x1="58" y1="255.25" x2="60.9" y2="255.25" stroke="#777" stroke-width="0.8" />
<text x="55.6" y="259.15" font-size="9.9" text-anchor="end" fill="#1a1a1a" >2,000</text>
<line x1="58" y1="283.825" x2="60.9" y2="283.825" stroke="#777" stroke-width="0.8" />
<text x="55.6" y="287.72499999999997" font-size="9.9" text-anchor="end" fill="#1a1a1a" >1,000</text>
<line x1="58" y1="312.4" x2="60.9" y2="312.4" stroke="#777" stroke-width="0.8" />
<text x="55.6" y="316.29999999999995" font-size="9.9" text-anchor="end" fill="#1a1a1a" >0</text>
<line x1="100.4" y1="312.4" x2="100.4" y2="314.9" stroke="#777" stroke-width="0.8" />
<text x="100.25" y="328.4" font-size="10.4" text-anchor="middle" fill="#1a1a1a" textLength="50.3" lengthAdjust="spacingAndGlyphs" >Control KD</text>
<line x1="159.4" y1="312.4" x2="159.4" y2="314.9" stroke="#777" stroke-width="0.8" />
<text x="163.7" y="328.4" font-size="10.4" text-anchor="middle" fill="#1a1a1a" textLength="43.4" lengthAdjust="spacingAndGlyphs" >CD38 KD</text>
<text x="61" y="189.8" font-size="10.4" fill="#1a1a1a" textLength="133" lengthAdjust="spacingAndGlyphs"><tspan font-style="italic">In vivo</tspan> mitochondrial content</text>
<text transform="translate(12.3,254.5) rotate(-90)" font-size="10.2" text-anchor="middle" fill="#1a1a1a" textLength="134.3" lengthAdjust="spacingAndGlyphs">Mitochondrial levels in MM1S</text>
<text transform="translate(24.2,252.9) rotate(-90)" font-size="10.4" text-anchor="middle" fill="#1a1a1a" textLength="106" lengthAdjust="spacingAndGlyphs">cells (MitoTracker MFI)</text>
<line x1="81" y1="237.5" x2="120" y2="237.5" stroke="#111" stroke-width="1.7" />
<line x1="140.1" y1="279.4" x2="179" y2="279.4" stroke="#111" stroke-width="1.7" />
<circle cx="100" cy="216.3" r="2.5" fill="#d04848" stroke="#802020" stroke-width="0.7"/>
<circle cx="103.8" cy="223.1" r="2.5" fill="#d04848" stroke="#802020" stroke-width="0.7"/>
<circle cx="96.7" cy="225.9" r="2.5" fill="#d04848" stroke="#802020" stroke-width="0.7"/>
<circle cx="100" cy="248.9" r="2.5" fill="#d04848" stroke="#802020" stroke-width="0.7"/>
<circle cx="103.8" cy="253.4" r="2.5" fill="#d04848" stroke="#802020" stroke-width="0.7"/>
<circle cx="96.7" cy="259.5" r="2.5" fill="#d04848" stroke="#802020" stroke-width="0.7"/>
<circle cx="158.8" cy="263" r="2.5" fill="#5866a8" stroke="#283060" stroke-width="0.7"/>
<circle cx="158.8" cy="271.6" r="2.5" fill="#5866a8" stroke="#283060" stroke-width="0.7"/>
<circle cx="155.6" cy="277.4" r="2.5" fill="#5866a8" stroke="#283060" stroke-width="0.7"/>
<circle cx="166.2" cy="284.2" r="2.5" fill="#5866a8" stroke="#283060" stroke-width="0.7"/>
<circle cx="162.4" cy="288.5" r="2.5" fill="#5866a8" stroke="#283060" stroke-width="0.7"/>
<circle cx="155.6" cy="292.8" r="2.5" fill="#5866a8" stroke="#283060" stroke-width="0.7"/>
<text x="160.1" y="256.3" font-size="12.5" text-anchor="middle" font-weight="bold" fill="#111" textLength="11" lengthAdjust="spacingAndGlyphs" >**</text>
<rect x="315.2" y="191.5" width="116.40000000000003" height="120.60000000000002" fill="none" stroke="#555" stroke-width="0.9" />
<line x1="312.3" y1="191.5" x2="315.2" y2="191.5" stroke="#555" stroke-width="0.9" />
<text x="308.4" y="195.5" font-size="10.2" text-anchor="end" fill="#1a1a1a" >1,000</text>
<line x1="312.3" y1="215.62" x2="315.2" y2="215.62" stroke="#555" stroke-width="0.9" />
<text x="308.4" y="219.62" font-size="10.2" text-anchor="end" fill="#1a1a1a" >800</text>
<line x1="312.3" y1="239.74" x2="315.2" y2="239.74" stroke="#555" stroke-width="0.9" />
<text x="308.4" y="243.74" font-size="10.2" text-anchor="end" fill="#1a1a1a" >600</text>
<line x1="312.3" y1="263.86" x2="315.2" y2="263.86" stroke="#555" stroke-width="0.9" />
<text x="308.4" y="267.86" font-size="10.2" text-anchor="end" fill="#1a1a1a" >400</text>
<line x1="312.3" y1="287.98" x2="315.2" y2="287.98" stroke="#555" stroke-width="0.9" />
<text x="308.4" y="291.98" font-size="10.2" text-anchor="end" fill="#1a1a1a" >200</text>
<line x1="312.3" y1="312.1" x2="315.2" y2="312.1" stroke="#555" stroke-width="0.9" />
<text x="308.4" y="316.1" font-size="10.2" text-anchor="end" fill="#1a1a1a" >0</text>
<text x="322.2" y="186.6" font-size="10.4" fill="#1a1a1a" textLength="96" lengthAdjust="spacingAndGlyphs"><tspan font-style="italic">In vitro</tspan> mono culture</text>
<rect x="334.9" y="240.3" width="18.7" height="71.80000000000001" fill="#8a8a8a" stroke="#444" stroke-width="0.9" />
<rect x="393.6" y="232.6" width="18.5" height="79.50000000000003" fill="#8a8a8a" stroke="#444" stroke-width="0.9" />
<line x1="344.3" y1="236.2" x2="344.3" y2="244.2" stroke="#222" stroke-width="0.8" />
<line x1="342" y1="236.2" x2="346.6" y2="236.2" stroke="#222" stroke-width="0.8" />
<line x1="342" y1="244.2" x2="346.6" y2="244.2" stroke="#222" stroke-width="0.8" />
<text x="346.2" y="326.4" font-size="10.4" text-anchor="middle" fill="#1a1a1a" textLength="50" lengthAdjust="spacingAndGlyphs" >Control KD</text>
<text x="410.8" y="326.4" font-size="10.4" text-anchor="middle" fill="#1a1a1a" textLength="42.5" lengthAdjust="spacingAndGlyphs" >CD38 KD</text>
<text transform="translate(268.3,252.6) rotate(-90)" font-size="10.1" text-anchor="middle" fill="#1a1a1a" textLength="134.2" lengthAdjust="spacingAndGlyphs">Mitochondrial levels in MM1S</text>
<text transform="translate(280.8,251.9) rotate(-90)" font-size="10.1" text-anchor="middle" fill="#1a1a1a" textLength="104.6" lengthAdjust="spacingAndGlyphs">cells(MitoTracker MFI)</text>
<rect x="41" y="368.5" width="172.5" height="115.5" fill="none" stroke="#666" stroke-width="0.9" />
<line x1="41" y1="368.5" x2="41" y2="484" stroke="#666" stroke-width="1" />
<line x1="37.8" y1="368.5" x2="41" y2="368.5" stroke="#666" stroke-width="0.9" />
<text x="36" y="372.9" font-size="10" text-anchor="end" fill="#1a1a1a" >600</text>
<line x1="37.8" y1="407.0" x2="41" y2="407.0" stroke="#666" stroke-width="0.9" />
<text x="36" y="411.4" font-size="10" text-anchor="end" fill="#1a1a1a" >400</text>
<line x1="37.8" y1="445.5" x2="41" y2="445.5" stroke="#666" stroke-width="0.9" />
<text x="36" y="449.9" font-size="10" text-anchor="end" fill="#1a1a1a" >200</text>
<line x1="37.8" y1="484.0" x2="41" y2="484.0" stroke="#666" stroke-width="0.9" />
<text x="36" y="488.4" font-size="10" text-anchor="end" fill="#1a1a1a" >0</text>
<line x1="41.0" y1="484" x2="41.0" y2="486.6" stroke="#666" stroke-width="0.9" />
<text x="42.7" y="499.6" font-size="10" text-anchor="middle" fill="#1a1a1a" >0</text>
<line x1="84.12" y1="484" x2="84.12" y2="486.6" stroke="#666" stroke-width="0.9" />
<text x="85.82000000000001" y="499.6" font-size="10" text-anchor="middle" fill="#1a1a1a" >20</text>
<line x1="127.24" y1="484" x2="127.24" y2="486.6" stroke="#666" stroke-width="0.9" />
<text x="128.94" y="499.6" font-size="10" text-anchor="middle" fill="#1a1a1a" >40</text>
<line x1="170.35999999999999" y1="484" x2="170.35999999999999" y2="486.6" stroke="#666" stroke-width="0.9" />
<text x="172.05999999999997" y="499.6" font-size="10" text-anchor="middle" fill="#1a1a1a" >60</text>
<line x1="213.48" y1="484" x2="213.48" y2="486.6" stroke="#666" stroke-width="0.9" />
<text x="215.17999999999998" y="499.6" font-size="10" text-anchor="middle" fill="#1a1a1a" >80</text>
<text x="138" y="512.3" font-size="10.4" text-anchor="middle" fill="#1a1a1a" textLength="54.6" lengthAdjust="spacingAndGlyphs" >Time (mins)</text>
<text transform="translate(8,415) rotate(-90)" font-size="10.4" text-anchor="middle" fill="#1a1a1a" textLength="75" lengthAdjust="spacingAndGlyphs">OCR (pmol/min)</text>
<line x1="66.7" y1="355.6" x2="78.8" y2="355.6" stroke="#ecc8c8" stroke-width="0.9" />
<circle cx="72.9" cy="355.6" r="0.9" fill="#804040"/>
<line x1="138" y1="355.6" x2="150.2" y2="355.6" stroke="#c8c8e4" stroke-width="0.9" />
<circle cx="144.3" cy="355.6" r="0.9" fill="#404080"/>
<text x="85.6" y="359.1" font-size="9" fill="#1a1a1a" textLength="41.7" lengthAdjust="spacingAndGlyphs" >Control KD</text>
<text x="155.6" y="359.1" font-size="9" fill="#1a1a1a" textLength="36.9" lengthAdjust="spacingAndGlyphs" >CD38 KD</text>
<line x1="172.7" y1="461.5" x2="172.7" y2="484" stroke="#a8a8b4" stroke-width="0.7" />
<line x1="171.2" y1="461.5" x2="174.2" y2="461.5" stroke="#a8a8b4" stroke-width="0.7" />
<line x1="186.8" y1="461.5" x2="186.8" y2="484" stroke="#a8a8b4" stroke-width="0.7" />
<line x1="185.3" y1="461.5" x2="188.3" y2="461.5" stroke="#a8a8b4" stroke-width="0.7" />
<line x1="201.4" y1="461.5" x2="201.4" y2="484" stroke="#a8a8b4" stroke-width="0.7" />
<line x1="199.9" y1="461.5" x2="202.9" y2="461.5" stroke="#a8a8b4" stroke-width="0.7" />
<line x1="44.5" y1="447.6" x2="44.5" y2="452.6" stroke="#e08080" stroke-width="0.6" />
<line x1="43.5" y1="447.6" x2="45.5" y2="447.6" stroke="#e08080" stroke-width="0.5" />
<line x1="43.5" y1="452.6" x2="45.5" y2="452.6" stroke="#e08080" stroke-width="0.5" />
<line x1="58.5" y1="449.3" x2="58.5" y2="453.7" stroke="#e08080" stroke-width="0.6" />
<line x1="57.5" y1="449.3" x2="59.5" y2="449.3" stroke="#e08080" stroke-width="0.5" />
<line x1="57.5" y1="453.7" x2="59.5" y2="453.7" stroke="#e08080" stroke-width="0.5" />
<line x1="73" y1="450.4" x2="73" y2="454.4" stroke="#e08080" stroke-width="0.6" />
<line x1="72" y1="450.4" x2="74" y2="450.4" stroke="#e08080" stroke-width="0.5" />
<line x1="72" y1="454.4" x2="74" y2="454.4" stroke="#e08080" stroke-width="0.5" />
<line x1="87" y1="450.8" x2="87" y2="453.2" stroke="#e08080" stroke-width="0.6" />
<line x1="86" y1="450.8" x2="88" y2="450.8" stroke="#e08080" stroke-width="0.5" />
<line x1="86" y1="453.2" x2="88" y2="453.2" stroke="#e08080" stroke-width="0.5" />
<line x1="101.25" y1="453.5" x2="101.25" y2="455.5" stroke="#e08080" stroke-width="0.6" />
<line x1="100.25" y1="453.5" x2="102.25" y2="453.5" stroke="#e08080" stroke-width="0.5" />
<line x1="100.25" y1="455.5" x2="102.25" y2="455.5" stroke="#e08080" stroke-width="0.5" />
<line x1="115.5" y1="456.6" x2="115.5" y2="458.6" stroke="#e08080" stroke-width="0.6" />
<line x1="114.5" y1="456.6" x2="116.5" y2="456.6" stroke="#e08080" stroke-width="0.5" />
<line x1="114.5" y1="458.6" x2="116.5" y2="458.6" stroke="#e08080" stroke-width="0.5" />
<line x1="129.9" y1="394.7" x2="129.9" y2="399.7" stroke="#e08080" stroke-width="0.6" />
<line x1="128.9" y1="394.7" x2="130.9" y2="394.7" stroke="#e08080" stroke-width="0.5" />
<line x1="128.9" y1="399.7" x2="130.9" y2="399.7" stroke="#e08080" stroke-width="0.5" />
<line x1="144.3" y1="390.9" x2="144.3" y2="396.9" stroke="#e08080" stroke-width="0.6" />
<line x1="143.3" y1="390.9" x2="145.3" y2="390.9" stroke="#e08080" stroke-width="0.5" />
<line x1="143.3" y1="396.9" x2="145.3" y2="396.9" stroke="#e08080" stroke-width="0.5" />
<line x1="158.7" y1="385.0" x2="158.7" y2="394.0" stroke="#e08080" stroke-width="0.6" />
<line x1="157.7" y1="385.0" x2="159.7" y2="385.0" stroke="#e08080" stroke-width="0.5" />
<line x1="157.7" y1="394.0" x2="159.7" y2="394.0" stroke="#e08080" stroke-width="0.5" />
<line x1="44.5" y1="464.2" x2="44.5" y2="470.2" stroke="#7878c0" stroke-width="0.6" />
<line x1="43.5" y1="464.2" x2="45.5" y2="464.2" stroke="#7878c0" stroke-width="0.5" />
<line x1="43.5" y1="470.2" x2="45.5" y2="470.2" stroke="#7878c0" stroke-width="0.5" />
<line x1="58.5" y1="465.90000000000003" x2="58.5" y2="470.3" stroke="#7878c0" stroke-width="0.6" />
<line x1="57.5" y1="465.90000000000003" x2="59.5" y2="465.90000000000003" stroke="#7878c0" stroke-width="0.5" />
<line x1="57.5" y1="470.3" x2="59.5" y2="470.3" stroke="#7878c0" stroke-width="0.5" />
<line x1="73" y1="466.7" x2="73" y2="470.7" stroke="#7878c0" stroke-width="0.6" />
<line x1="72" y1="466.7" x2="74" y2="466.7" stroke="#7878c0" stroke-width="0.5" />
<line x1="72" y1="470.7" x2="74" y2="470.7" stroke="#7878c0" stroke-width="0.5" />
<line x1="87" y1="470.7" x2="87" y2="472.7" stroke="#7878c0" stroke-width="0.6" />
<line x1="86" y1="470.7" x2="88" y2="470.7" stroke="#7878c0" stroke-width="0.5" />
<line x1="86" y1="472.7" x2="88" y2="472.7" stroke="#7878c0" stroke-width="0.5" />
<line x1="101.25" y1="473" x2="101.25" y2="475" stroke="#7878c0" stroke-width="0.6" />
<line x1="100.25" y1="473" x2="102.25" y2="473" stroke="#7878c0" stroke-width="0.5" />
<line x1="100.25" y1="475" x2="102.25" y2="475" stroke="#7878c0" stroke-width="0.5" />
<line x1="115.5" y1="474.6" x2="115.5" y2="476.6" stroke="#7878c0" stroke-width="0.6" />
<line x1="114.5" y1="474.6" x2="116.5" y2="474.6" stroke="#7878c0" stroke-width="0.5" />
<line x1="114.5" y1="476.6" x2="116.5" y2="476.6" stroke="#7878c0" stroke-width="0.5" />
<line x1="129.9" y1="452.4" x2="129.9" y2="456.4" stroke="#7878c0" stroke-width="0.6" />
<line x1="128.9" y1="452.4" x2="130.9" y2="452.4" stroke="#7878c0" stroke-width="0.5" />
<line x1="128.9" y1="456.4" x2="130.9" y2="456.4" stroke="#7878c0" stroke-width="0.5" />
<line x1="144.3" y1="454.7" x2="144.3" y2="458.7" stroke="#7878c0" stroke-width="0.6" />
<line x1="143.3" y1="454.7" x2="145.3" y2="454.7" stroke="#7878c0" stroke-width="0.5" />
<line x1="143.3" y1="458.7" x2="145.3" y2="458.7" stroke="#7878c0" stroke-width="0.5" />
<line x1="158.7" y1="455.6" x2="158.7" y2="461.6" stroke="#7878c0" stroke-width="0.6" />
<line x1="157.7" y1="455.6" x2="159.7" y2="455.6" stroke="#7878c0" stroke-width="0.5" />
<line x1="157.7" y1="461.6" x2="159.7" y2="461.6" stroke="#7878c0" stroke-width="0.5" />
<polyline points="44.5,450.1 58.5,451.5 73,452.4 87,452 101.25,454.5 115.5,457.6 129.9,397.2 144.3,393.9 158.7,389.5 172.7,478.9 186.8,477.5 201.4,476.9" fill="none" stroke="#e07070" stroke-width="0.9"/>
<polyline points="44.5,467.2 58.5,468.1 73,468.7 87,471.7 101.25,474 115.5,475.6 129.9,454.4 144.3,456.7 158.7,458.6 172.7,472.6 186.8,472.6 201.4,472.6" fill="none" stroke="#7070c4" stroke-width="0.9"/>
<circle cx="44.5" cy="450.1" r="1.2" fill="#b83030"/>
<circle cx="58.5" cy="451.5" r="1.2" fill="#b83030"/>
<circle cx="73" cy="452.4" r="1.2" fill="#b83030"/>
<circle cx="87" cy="452" r="1.2" fill="#b83030"/>
<circle cx="101.25" cy="454.5" r="1.2" fill="#b83030"/>
<circle cx="115.5" cy="457.6" r="1.2" fill="#b83030"/>
<circle cx="129.9" cy="397.2" r="1.2" fill="#b83030"/>
<circle cx="144.3" cy="393.9" r="1.2" fill="#b83030"/>
<circle cx="158.7" cy="389.5" r="1.2" fill="#b83030"/>
<circle cx="172.7" cy="478.9" r="1.2" fill="#b83030"/>
<circle cx="186.8" cy="477.5" r="1.2" fill="#b83030"/>
<circle cx="201.4" cy="476.9" r="1.2" fill="#b83030"/>
<circle cx="44.5" cy="467.2" r="1.2" fill="#30308a"/>
<circle cx="58.5" cy="468.1" r="1.2" fill="#30308a"/>
<circle cx="73" cy="468.7" r="1.2" fill="#30308a"/>
<circle cx="87" cy="471.7" r="1.2" fill="#30308a"/>
<circle cx="101.25" cy="474" r="1.2" fill="#30308a"/>
<circle cx="115.5" cy="475.6" r="1.2" fill="#30308a"/>
<circle cx="129.9" cy="454.4" r="1.2" fill="#30308a"/>
<circle cx="144.3" cy="456.7" r="1.2" fill="#30308a"/>
<circle cx="158.7" cy="458.6" r="1.2" fill="#30308a"/>
<circle cx="172.7" cy="472.6" r="1.2" fill="#30308a"/>
<circle cx="186.8" cy="472.6" r="1.2" fill="#30308a"/>
<circle cx="201.4" cy="472.6" r="1.2" fill="#30308a"/>
<text x="94.8" y="397.79999999999995" font-size="8" text-anchor="middle" fill="#111" >O</text>
<line x1="94.8" y1="399.9" x2="94.8" y2="408.4" stroke="#555" stroke-width="0.9" />
<polygon points="91.8,407.59999999999997 97.8,407.59999999999997 94.8,413.4" fill="#111"/>
<text x="124.3" y="394.9" font-size="8" text-anchor="middle" fill="#111" >F</text>
<line x1="124.3" y1="397.5" x2="124.3" y2="405.5" stroke="#555" stroke-width="0.9" />
<polygon points="121.3,404.7 127.3,404.7 124.3,410.5" fill="#111"/>
<text x="191.1" y="397.79999999999995" font-size="8" text-anchor="middle" fill="#111" >R</text>
<line x1="191.1" y1="399.9" x2="191.1" y2="408" stroke="#555" stroke-width="0.9" />
<polygon points="188.1,407.2 194.1,407.2 191.1,413" fill="#111"/>
<rect x="323.5" y="364.5" width="137.5" height="113.80000000000001" fill="none" stroke="#555" stroke-width="0.9" />
<line x1="320.2" y1="364.5" x2="323.5" y2="364.5" stroke="#555" stroke-width="0.9" />
<text x="314.6" y="368.4" font-size="10" text-anchor="end" fill="#1a1a1a" >1.5</text>
<line x1="320.2" y1="402.43" x2="323.5" y2="402.43" stroke="#555" stroke-width="0.9" />
<text x="314.6" y="406.33" font-size="10" text-anchor="end" fill="#1a1a1a" >1</text>
<line x1="320.2" y1="440.36" x2="323.5" y2="440.36" stroke="#555" stroke-width="0.9" />
<text x="314.6" y="444.26" font-size="10" text-anchor="end" fill="#1a1a1a" >0.5</text>
<line x1="320.2" y1="478.28999999999996" x2="323.5" y2="478.28999999999996" stroke="#555" stroke-width="0.9" />
<text x="314.6" y="482.18999999999994" font-size="10" text-anchor="end" fill="#1a1a1a" >0</text>
<rect x="333.8" y="404.9" width="20.599999999999966" height="73.40000000000003" fill="#8a8a8a" stroke="#444" stroke-width="0.9" />
<line x1="344.1" y1="400.3" x2="344.1" y2="409.8" stroke="#222" stroke-width="0.8" />
<line x1="341.90000000000003" y1="400.3" x2="346.3" y2="400.3" stroke="#222" stroke-width="0.8" />
<line x1="341.90000000000003" y1="409.8" x2="346.3" y2="409.8" stroke="#222" stroke-width="0.8" />
<rect x="360.6" y="407.8" width="20.599999999999966" height="70.5" fill="#e4e4e4" stroke="#555" stroke-width="0.9" />
<line x1="370.9" y1="406" x2="370.9" y2="409.8" stroke="#222" stroke-width="0.8" />
<line x1="368.7" y1="406" x2="373.09999999999997" y2="406" stroke="#222" stroke-width="0.8" />
<line x1="368.7" y1="409.8" x2="373.09999999999997" y2="409.8" stroke="#222" stroke-width="0.8" />
<rect x="402.4" y="401.4" width="20.900000000000034" height="76.90000000000003" fill="#8a8a8a" stroke="#444" stroke-width="0.9" />
<line x1="412.85" y1="399.4" x2="412.85" y2="403.5" stroke="#222" stroke-width="0.8" />
<line x1="410.65000000000003" y1="399.4" x2="415.05" y2="399.4" stroke="#222" stroke-width="0.8" />
<line x1="410.65000000000003" y1="403.5" x2="415.05" y2="403.5" stroke="#222" stroke-width="0.8" />
<rect x="428.8" y="440.9" width="21.399999999999977" height="37.400000000000034" fill="#e4e4e4" stroke="#555" stroke-width="0.9" />
<line x1="439.5" y1="436.2" x2="439.5" y2="445.5" stroke="#222" stroke-width="0.8" />
<line x1="437.3" y1="436.2" x2="441.7" y2="436.2" stroke="#222" stroke-width="0.8" />
<line x1="437.3" y1="445.5" x2="441.7" y2="445.5" stroke="#222" stroke-width="0.8" />
<text x="370.5" y="400.8" font-size="10" text-anchor="middle" fill="#1a1a1a" >ns</text>
<text x="440.6" y="436.2" font-size="12.5" text-anchor="middle" font-weight="bold" fill="#111" textLength="11.4" lengthAdjust="spacingAndGlyphs" >**</text>
<rect x="327.3" y="367.3" width="5" height="5" fill="#8a8a8a" stroke="#333" stroke-width="0.8" />
<rect x="395.2" y="367.3" width="5" height="5" fill="#e4e4e4" stroke="#555" stroke-width="0.8" />
<text x="335" y="373.8" font-size="10" fill="#1a1a1a" textLength="50.8" lengthAdjust="spacingAndGlyphs" >Control KD</text>
<text x="402.2" y="373.8" font-size="10" fill="#1a1a1a" textLength="44.1" lengthAdjust="spacingAndGlyphs" >CD38 KD</text>
<text x="356.7" y="493.9" font-size="10.3" text-anchor="middle" fill="#1a1a1a" textLength="57.3" lengthAdjust="spacingAndGlyphs" >Monoculture</text>
<text x="426.8" y="493.9" font-size="10.3" text-anchor="middle" fill="#1a1a1a" textLength="43.9" lengthAdjust="spacingAndGlyphs" >Coculture</text>
<text transform="translate(273.6,426.6) rotate(-90)" font-size="9.8" text-anchor="middle" fill="#1a1a1a" textLength="118" lengthAdjust="spacingAndGlyphs">Relative basal mitochondrial</text>
<text transform="translate(284.1,425.3) rotate(-90)" font-size="9.7" text-anchor="middle" fill="#1a1a1a" textLength="147.8" lengthAdjust="spacingAndGlyphs">respiration (OCR pmol/min/live cell)</text>
</svg>
</body></html>
